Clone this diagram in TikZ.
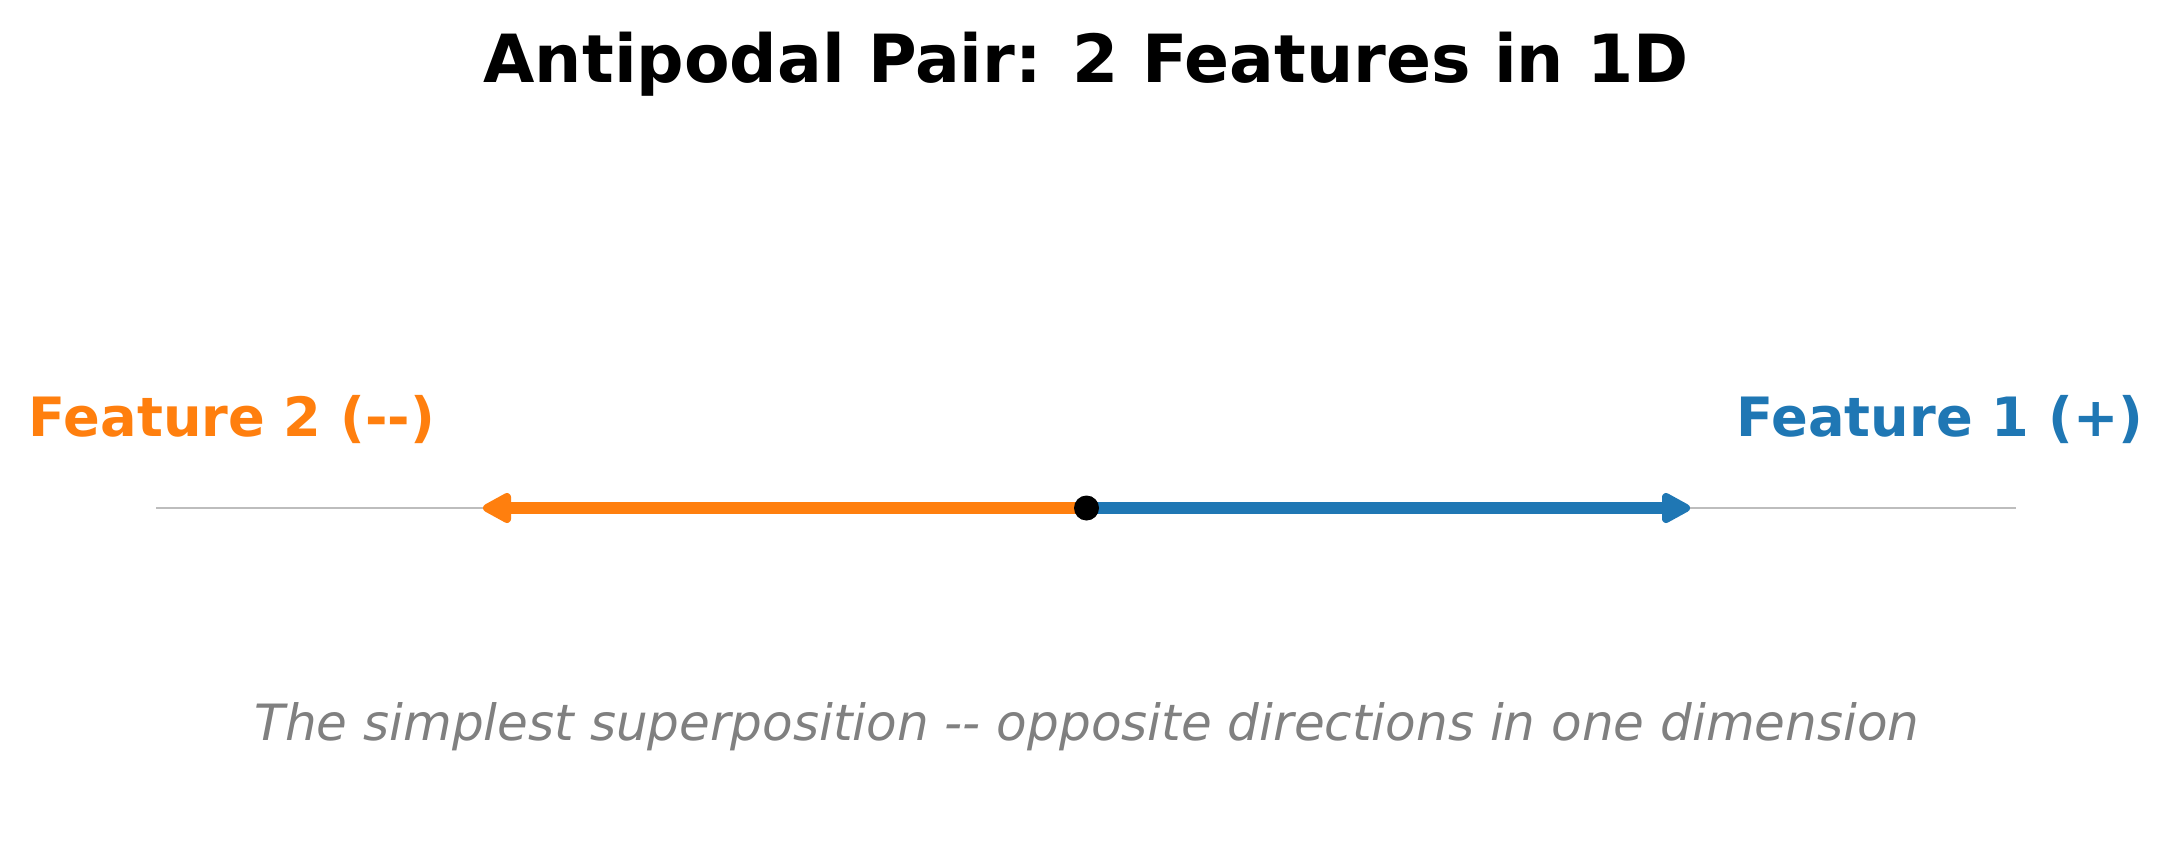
\documentclass[tikz,border=0pt]{standalone}
\usepackage{fontspec}
\setmainfont{DejaVu Sans}[Ligatures=NoCommon]
\definecolor{fblue}{HTML}{1F77B4}
\definecolor{forange}{HTML}{FF7F0E}
\definecolor{axisgray}{HTML}{BDBDBD}
\definecolor{subgray}{HTML}{808080}
\tikzset{
  titletext/.style={anchor=base, inner sep=0pt, font=\fontsize{66.4}{80}\selectfont\bfseries},
  labeltext/.style={anchor=base, inner sep=0pt, font=\fontsize{54.2}{65}\selectfont\bfseries},
  subtext/.style={anchor=base, inner sep=0pt, text=subgray, font=\fontsize{50}{60}\selectfont\itshape},
  axisline/.style={draw=axisgray, line width=2pt},
  featshaft/.style={line width=12.3pt},
  feathead/.style={line width=8pt, line join=round},
  origin/.style={circle, fill=black, inner sep=0pt, minimum size=25pt},
}
\begin{document}
\begin{tikzpicture}[x=1pt, y=-1pt]
\useasboundingbox (0,0) rectangle (2173,846);
\fill[white] (0,0) rectangle (2173,846);
\node[titletext] (title) at (1086,82) {Antipodal Pair: 2 Features in 1D};
\coordinate (axL) at (156,508);
\coordinate (axR) at (2016,508);
\coordinate (o) at (1086.5,508);
\coordinate (base1) at (1670,508);
\coordinate (base2) at (503,508);
\draw[axisline] (axL) -- (axR);
% orange arrow (Feature 2)
\draw[featshaft, draw=forange] (o) -- (base2);
\filldraw[feathead, draw=forange, fill=forange] (507,497) -- (487,508) -- (507,519) -- cycle;
% blue arrow (Feature 1)
\draw[featshaft, draw=fblue] (o) -- (base1);
\filldraw[feathead, draw=fblue, fill=fblue] (1666,497) -- (1686,508) -- (1666,519) -- cycle;
\node[origin] (dot) at (o) {};
\node[labeltext, text=forange] (lab2) at (232,436) {Feature 2 (-{}-)};
\node[labeltext, text=fblue] (lab1) at (1940,436) {Feature 1 (+)};
\node[subtext] (sub) at (1087,740) {The simplest superposition -{}- opposite directions in one dimension};
\end{tikzpicture}
\end{document}
